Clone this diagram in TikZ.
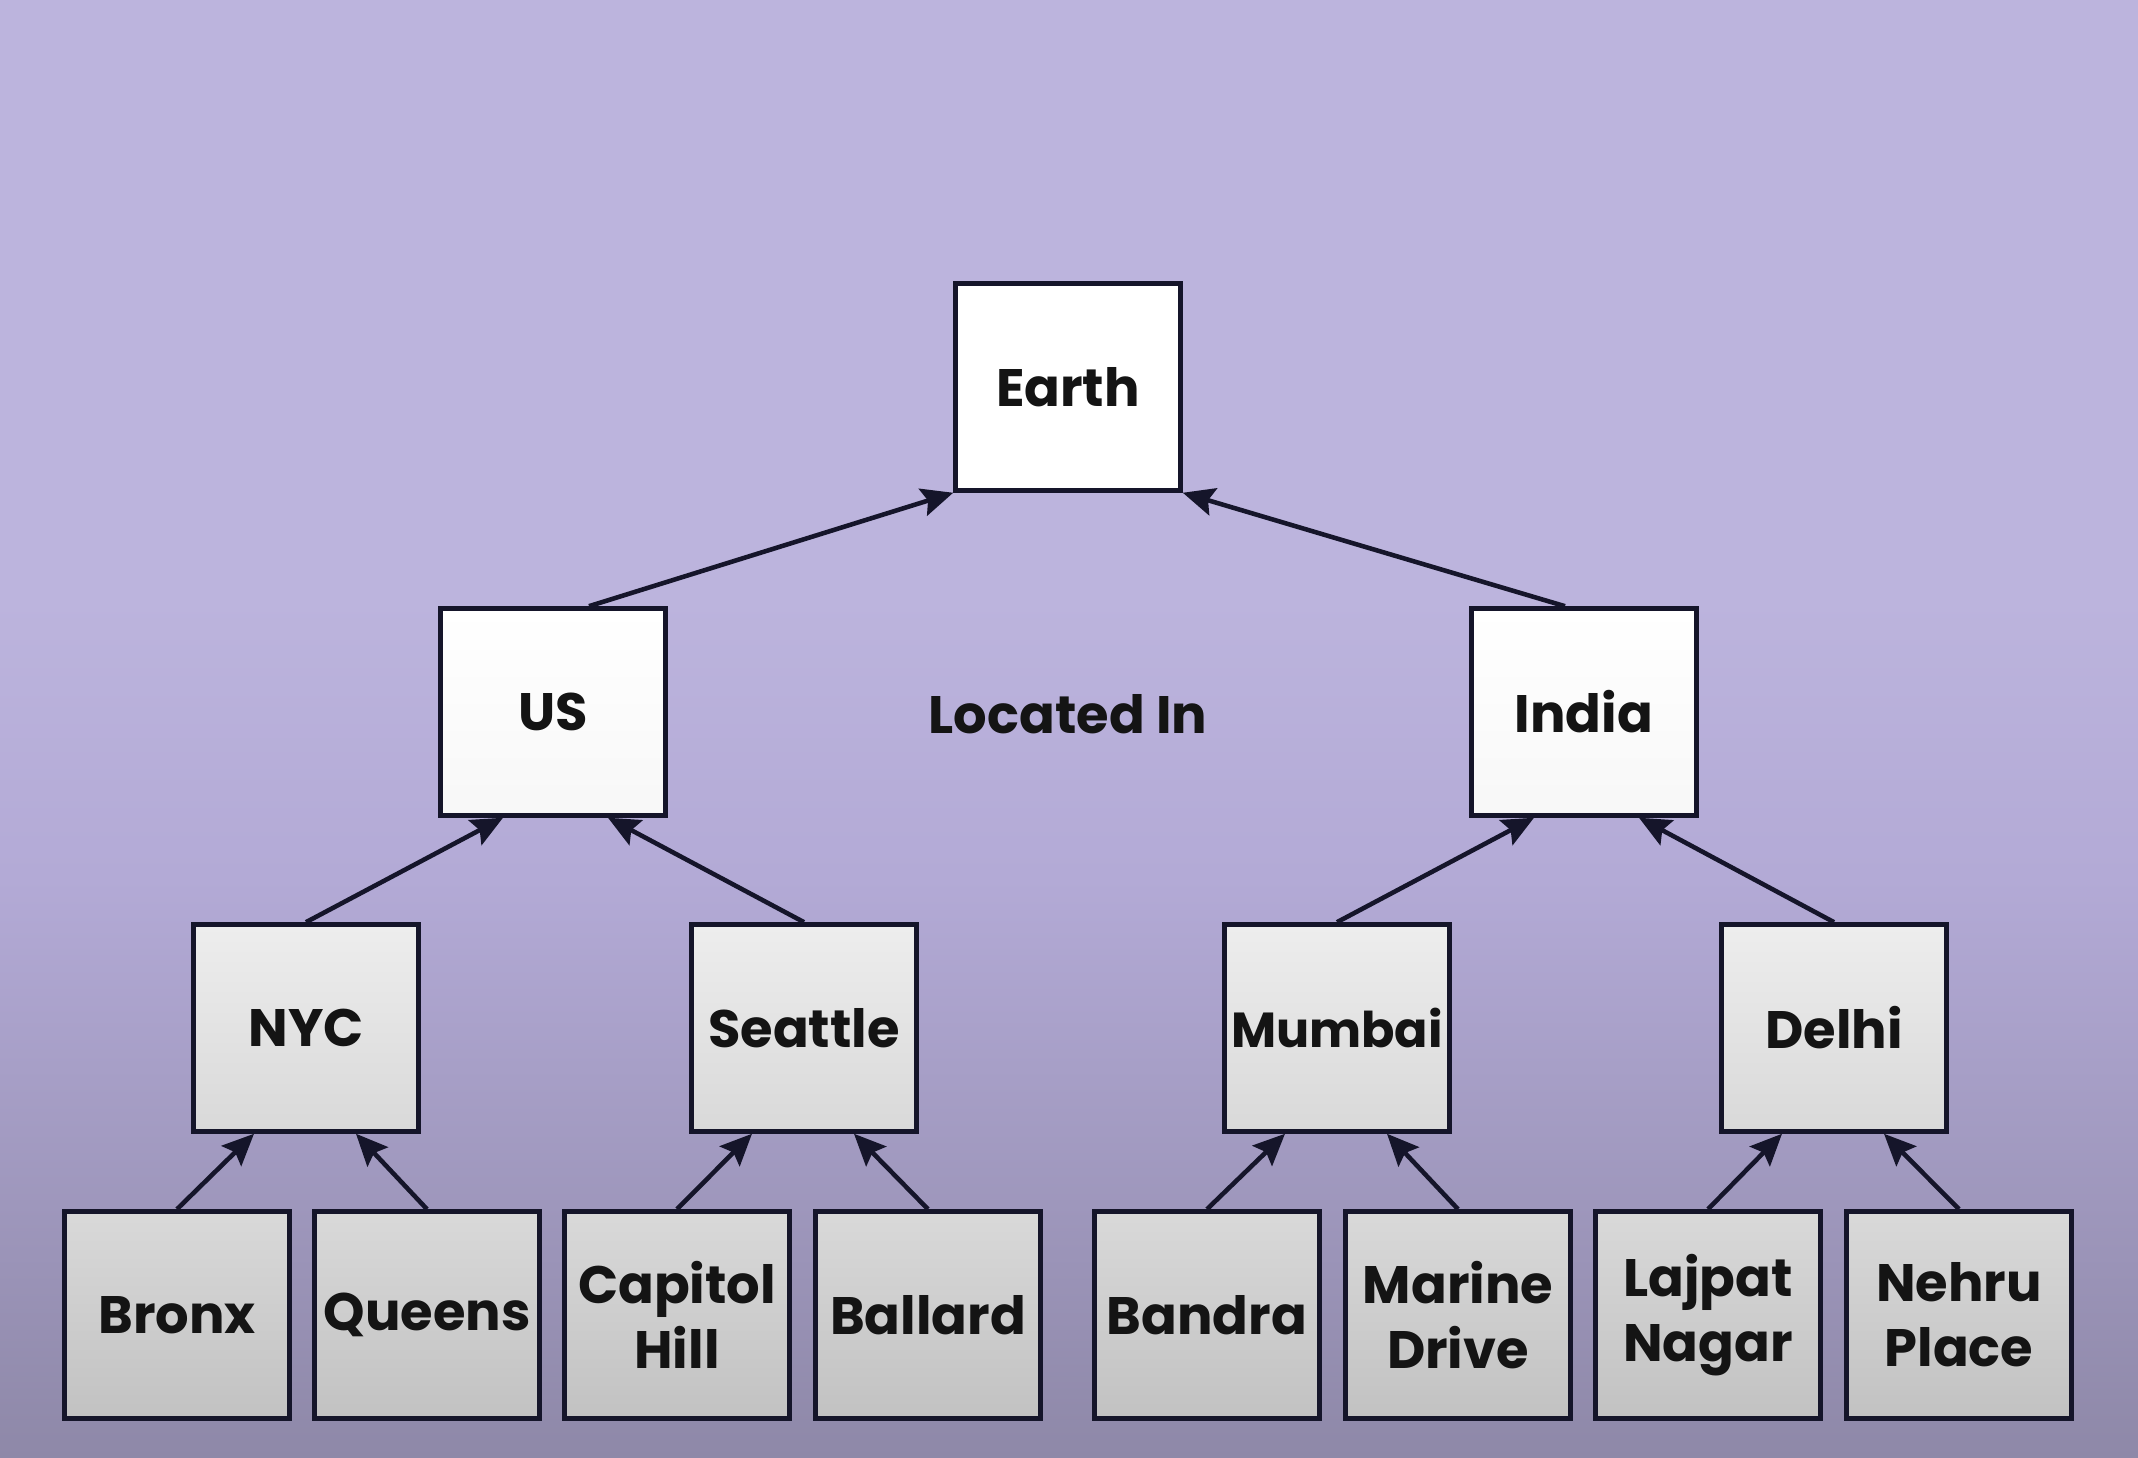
\documentclass[tikz,border=0pt]{standalone}
\usepackage{fontspec}
\setmainfont{Poppins}
\usepackage{tikz}
\usetikzlibrary{positioning,arrows.meta}
\definecolor{bgtop}{HTML}{BCB4DD}
\definecolor{bgmid}{HTML}{B3AAD6}
\definecolor{bgbot}{HTML}{8E88A8}
\definecolor{edge}{HTML}{15152A}

\tikzset{
  cell/.style={draw=edge, line width=1.3pt, minimum width=2.25cm, minimum height=2.07cm,
    inner sep=0pt, align=center, font=\bfseries\fontsize{15}{18.5}\selectfont, text=black!92},
  top cell/.style={cell, fill=white},
  mid cell/.style={cell, top color=white, bottom color=white!97!black},
  low cell/.style={cell, top color=white!93!black, bottom color=white!85!black},
  leaf cell/.style={cell, top color=white!85!black, bottom color=white!76!black},
  link/.style={draw=edge, line width=1.3pt, -{Stealth[length=9pt,width=8pt,inset=1.5pt]}}
}

\begin{document}
\begin{tikzpicture}
    % background
    \fill[bgtop] (0,0) rectangle (21.38,14.58);
    \shade[top color=bgtop, bottom color=bgmid] (0,5.8) rectangle (21.38,8.6);
    \shade[top color=bgmid, bottom color=bgbot] (0,0) rectangle (21.38,5.8);
    \useasboundingbox (0,0) rectangle (21.38,14.58);

    \node[top cell] (earth) at (10.68,10.71) {Earth};

    \node[mid cell] (us) at (5.53,7.46) {US};
    \node[mid cell] (india) at (15.84,7.46) {India};
    \node[font=\bfseries\fontsize{15}{18.5}\selectfont, text=black!92] (rel) at (10.68,7.44) {Located In};

    \node[low cell] (nyc) at (3.06,4.30) {NYC};
    \node[low cell] (seattle) at (8.04,4.30) {Seattle};
    \node[low cell, font=\bfseries\fontsize{14}{18.5}\selectfont] (mumbai) at (13.37,4.30) {Mumbai};
    \node[low cell] (delhi) at (18.34,4.30) {Delhi};

    \node[leaf cell] (bronx) at (1.77,1.43) {Bronx};
    \node[leaf cell] (queens) at (4.27,1.43) {Queens};
    \node[leaf cell] (capitol) at (6.77,1.43) {Capitol\\Hill};
    \node[leaf cell] (ballard) at (9.28,1.43) {Ballard};
    \node[leaf cell] (bandra) at (12.07,1.43) {Bandra};
    \node[leaf cell] (marine) at (14.58,1.43) {Marine\\Drive};
    \node[leaf cell] (lajpat) at (17.08,1.43) {Lajpat\\Nagar};
    \node[leaf cell] (nehru) at (19.59,1.43) {Nehru\\Place};

    % located in
    \draw[link] ([xshift=3.6mm]us.north) -- (earth.south west);
    \draw[link] ([xshift=-1.9mm]india.north) -- (earth.south east);

    \draw[link] (nyc.north) -- ([xshift=-5mm]us.south);
    \draw[link] (seattle.north) -- ([xshift=5.5mm]us.south);
    \draw[link] (mumbai.north) -- ([xshift=-5mm]india.south);
    \draw[link] (delhi.north) -- ([xshift=5.5mm]india.south);

    \draw[link] (bronx.north) -- ([xshift=-5.2mm]nyc.south);
    \draw[link] (queens.north) -- ([xshift=5mm]nyc.south);
    \draw[link] (capitol.north) -- ([xshift=-5.2mm]seattle.south);
    \draw[link] (ballard.north) -- ([xshift=5mm]seattle.south);
    \draw[link] (bandra.north) -- ([xshift=-5.2mm]mumbai.south);
    \draw[link] (marine.north) -- ([xshift=5mm]mumbai.south);
    \draw[link] (lajpat.north) -- ([xshift=-5.2mm]delhi.south);
    \draw[link] (nehru.north) -- ([xshift=5mm]delhi.south);

\end{tikzpicture}
\end{document}
